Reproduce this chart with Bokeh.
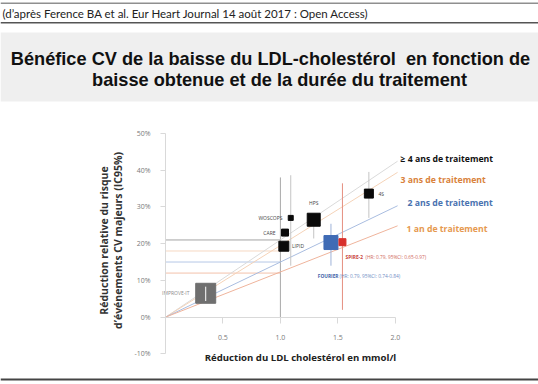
import math
from bokeh.plotting import figure
from bokeh.models import Label, BoxAnnotation, Range1d, FixedTicker, NumeralTickFormatter, ColumnDataSource
from bokeh.core.properties import value
from bokeh.embed import file_html
from bokeh.resources import INLINE

# ---------------- data ----------------
studies = ["IMPROVE-IT", "LIPID", "CARE", "WOSCOPS", "HPS", "4S", "FOURIER", "SPIRE-2"]
ldl_reduction = [0.35, 1.03, 1.04, 1.09, 1.29, 1.77, 1.44, 1.54]
risk_reduction = [0.065, 0.193, 0.23, 0.27, 0.265, 0.336, 0.203, 0.204]
ci_low = [0.044, None, None, 0.14, 0.214, 0.27, 0.14, 0.02]
ci_high = [0.083, None, None, 0.386, 0.28, 0.395, 0.254, 0.364]

durations = ["≥ 4 ans de traitement", "3 ans de traitement", "2 ans de traitement", "1 an de traitement"]
slope_per_mmol = [0.21, 0.195, 0.15, 0.123]
risk_at_1mmol = [0.21, 0.18, 0.15, 0.12]
line_end_ldl = 2.02
ref_ldl = 1.0
ref_ldl_top = 0.38

fourier_note = "(HR: 0.79, 95%CI: 0.74-0.84)"
spire_note = "(HR: 0.79, 95%CI: 0.65-0.97)"

x_ticks = [0.5, 1.0, 1.5, 2.0]
y_ticks = [-0.1, 0.0, 0.1, 0.2, 0.3, 0.4, 0.5]

citation = "(d’après Ference BA et al. Eur Heart Journal 14 août 2017 : Open Access)"
title_lines = ["Bénéfice CV de la baisse du LDL-cholestérol\u00a0 en fonction de",
               "baisse obtenue et de la durée du traitement"]
y_title = ["Réduction relative du risque", "d’événements CV majeurs (IC95%)"]
x_title = "Réduction du LDL cholestérol en mmol/l"

# ---------------- styles / layout ----------------
marker_size = [20, 10, 7, 5, 13, 9, 14, 7]
marker_color = ["#6f6f6f", "#0a0a0a", "#0a0a0a", "#0a0a0a", "#0a0a0a", "#0a0a0a", "#3f6bb5", "#d8302c"]
ci_color = ["#ffffff", "#c4c4c4", "#c4c4c4", "#c4c4c4", "#c4c4c4", "#c4c4c4", "#9fb3d8", "#e58f80"]
line_color = ["#dadada", "#f5d3b8", "#a9bde0", "#efb49c"]
hline_color = ["#a3a3a3", "#f6d8c2", "#b5c7e6", "#f3c1ab"]
legend_color = ["#111111", "#d9823b", "#4a72b0", "#e6994f"]

W, H = 538, 384
PXX = 114.9          # px per mmol/l
PXY = 367.8          # px per 100 %
X0PX, Y0PX = 165, 316.7   # pixel of the origin


def X(r):  # pixel -> data x
    return (r - X0PX) / PXX


def Y(r):  # pixel -> data y
    return (Y0PX - r) / PXY


OS = value("Open Sans")

p = figure(width=W, height=H, output_backend="svg", toolbar_location=None,
           x_range=Range1d(X(0), X(W)), y_range=Range1d(Y(H), Y(0)),
           min_border_left=0, min_border_right=0, min_border_top=0, min_border_bottom=0,
           background_fill_color="white", border_fill_color="white")
p.outline_line_color = None
p.grid.visible = False

# axes (drawn at the origin)
xa = p.xaxis[0]
xa.fixed_location = 0
xa.bounds = (0, 2.0)
xa.ticker = FixedTicker(ticks=x_ticks)
xa.formatter = NumeralTickFormatter(format="0.0")
ya = p.yaxis[0]
ya.fixed_location = 0
ya.bounds = (-0.1, 0.5)
ya.ticker = FixedTicker(ticks=y_ticks)
ya.formatter = NumeralTickFormatter(format="0%")
for ax in (xa, ya):
    ax.axis_line_color = "#d9d9d9"
    ax.major_tick_line_color = "#d9d9d9"
    ax.minor_tick_line_color = None
    ax.major_tick_in = 0
    ax.major_label_text_font = "Open Sans"
    ax.major_label_text_font_size = "7px"
    ax.major_label_text_color = "#7a7a7a"
xa.major_tick_out = 6
xa.major_label_standoff = 12
ya.major_tick_out = 5
ya.major_label_standoff = 10

# slide decoration
p.add_layout(BoxAnnotation(left=X(0), right=X(W), top=Y(32), bottom=Y(101),
                           fill_color="#efefef", fill_alpha=1, line_color=None))
p.add_layout(BoxAnnotation(left=X(0), right=X(W), top=Y(2), bottom=Y(3.5),
                           fill_color="#8f8f8f", fill_alpha=1, line_color=None))
p.add_layout(BoxAnnotation(left=X(0), right=X(W), top=Y(21.5), bottom=Y(23),
                           fill_color="#555555", fill_alpha=1, line_color=None))
p.add_layout(BoxAnnotation(left=X(0), right=X(W), top=Y(378), bottom=Y(380),
                           fill_color="#444444", fill_alpha=1, line_color=None))

p.add_layout(Label(x=X(2), y=Y(12.5), text=citation, text_font="Lato", text_font_size="11.5px",
                   text_color="#222222", text_baseline="middle", text_align="left"))
title_pos = [(270, 58), (279, 79)]
for t, (tx, ty) in zip(title_lines, title_pos):
    p.add_layout(Label(x=X(tx), y=Y(ty), text=t, text_font="Liberation Sans", text_font_style="bold",
                       text_font_size="18.2px", text_color="#111111", text_align="center",
                       text_baseline="middle"))

for t, tx in zip(y_title, [103.5, 117]):
    p.add_layout(Label(x=X(tx), y=Y(240), text=t, angle=math.pi / 2, text_font="Open Sans",
                       text_font_style="bold", text_font_size="10.5px", text_color="#333333",
                       text_align="center", text_baseline="middle"))
p.add_layout(Label(x=X(300), y=Y(356.5), text=x_title, text_font="Open Sans", text_font_style="bold",
                   text_font_size="9.6px", text_color="#222222", text_align="center",
                   text_baseline="middle"))

# reference horizontal lines to 1 mmol/l
for r, c in zip(risk_at_1mmol, hline_color):
    p.segment(x0=0, y0=r, x1=ref_ldl, y1=r, line_color=c, line_width=1)
p.segment(x0=ref_ldl, y0=0, x1=ref_ldl, y1=ref_ldl_top, line_color="#a8a8a8", line_width=1)

# duration lines
for s, c in zip(slope_per_mmol, line_color):
    p.segment(x0=0, y0=0, x1=line_end_ldl, y1=s * line_end_ldl, line_color=c, line_width=1)

# confidence intervals (behind squares)
ci = [(x, lo, hi, c) for x, lo, hi, c, n in zip(ldl_reduction, ci_low, ci_high, ci_color, studies)
      if lo is not None and n != "IMPROVE-IT"]
p.segment(x0=[c[0] for c in ci], y0=[c[1] for c in ci], x1=[c[0] for c in ci], y1=[c[2] for c in ci],
          line_color=[c[3] for c in ci], line_width=1)

src = ColumnDataSource(dict(x=ldl_reduction, y=risk_reduction, size=marker_size, color=marker_color))
p.scatter(x="x", y="y", size="size", marker="square", fill_color="color", line_color="color", source=src)

# IMPROVE-IT CI (white, drawn over its square)
i0 = studies.index("IMPROVE-IT")
p.segment(x0=ldl_reduction[i0], y0=ci_low[i0], x1=ldl_reduction[i0], y1=ci_high[i0],
          line_color=ci_color[i0], line_width=1)

# study labels
lab = {
    "IMPROVE-IT": (189, 292, "right", "#8a8a8a"),
    "LIPID": (291.5, 245.7, "left", "#444444"),
    "CARE": (275, 232.3, "right", "#444444"),
    "WOSCOPS": (282, 217.7, "right", "#444444"),
    "HPS": (313.3, 202.3, "center", "#444444"),
    "4S": (378, 193.3, "left", "#444444"),
}
for n in studies:
    if n in lab:
        lx, ly, al, col = lab[n]
        p.text(x=[X(lx)], y=[Y(ly)], text=[n], text_font=OS, text_font_size="5px", text_color=col,
               text_align=al, text_baseline="middle")

# SPIRE-2 / FOURIER notes
p.text(x=[X(345)], y=[Y(256.7)], text=["SPIRE-2"], text_font=OS, text_font_style="bold",
       text_font_size="4.8px", text_color="#c8413a", text_baseline="middle")
p.text(x=[X(365)], y=[Y(256.7)], text=[spire_note], text_font=OS,
       text_font_size="4.8px", text_color="#d0665c", text_baseline="middle")
p.text(x=[X(317.3)], y=[Y(275.7)], text=["FOURIER"], text_font=OS, text_font_style="bold",
       text_font_size="4.8px", text_color="#3d5fa8", text_baseline="middle")
p.text(x=[X(339)], y=[Y(275.7)], text=[fourier_note], text_font=OS,
       text_font_size="4.8px", text_color="#6f8cc4", text_baseline="middle")

# duration legend
leg_pos = [(400, 158), (400, 179), (407, 202.7), (406, 228)]
for t, c, (lx, ly) in zip(durations, legend_color, leg_pos):
    p.text(x=[X(lx)], y=[Y(ly)], text=[t], text_font=OS, text_font_style="bold",
           text_font_size="8.7px", text_color=c, text_baseline="middle")

open("out.html", "w").write(file_html(p, INLINE))
